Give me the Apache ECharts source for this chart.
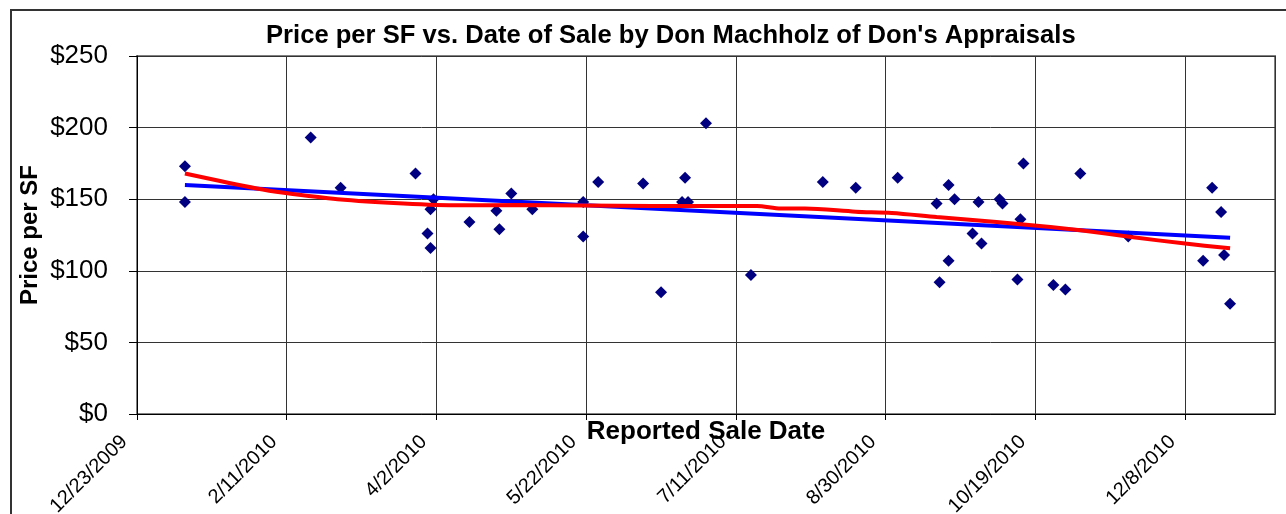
<!DOCTYPE html>
<html>
<head>
<meta charset="utf-8">
<script src="https://cdn.jsdelivr.net/npm/echarts@6/dist/echarts.min.js"></script>
<style>
html,body{margin:0;padding:0;background:#fff;}
#chart{width:1286px;height:514px;}
</style>
</head>
<body>
<div id="chart"></div>
<script>
// ---- data ----
const saleDates = [
  '2010-01-08','2010-01-08','2010-02-19','2010-03-01','2010-03-26','2010-03-31','2010-03-30','2010-03-31','2010-04-01',
  '2010-04-13','2010-04-22','2010-04-23','2010-04-27','2010-05-04','2010-05-21','2010-05-21','2010-05-26','2010-06-10',
  '2010-06-16','2010-06-24','2010-06-23','2010-06-25','2010-07-01','2010-07-16',
  '2010-08-09','2010-08-20','2010-09-03','2010-09-16','2010-09-17','2010-09-20','2010-09-20','2010-09-22','2010-09-28',
  '2010-09-30','2010-10-01','2010-10-07','2010-10-08','2010-10-13','2010-10-14','2010-10-15',
  '2010-10-25','2010-10-29','2010-11-03','2010-11-19','2010-12-14','2010-12-17','2010-12-20','2010-12-21','2010-12-23'
];
const pricePerSF = [
  173,148,193,158,168,143,126,116,150,
  134,142,129,154,143,148,124,162,161,
  85,165,148,148,203,97,
  162,158,165,147,92,160,107,150,126,
  148,119,150,147,94,136,175,
  90,87,168,124,107,158,141,111,77
];
// linear trend line (blue) endpoints
const linearDates = ['2010-01-08','2010-12-23'];
const linearValues = [160,123];
// polynomial trend line (red)
const polyDates = ['2010-01-08','2010-02-01','2010-02-10','2010-02-28','2010-03-22','2010-04-10','2010-04-29',
  '2010-06-13','2010-07-18','2010-07-26','2010-08-03','2010-08-20','2010-09-01','2010-09-16','2010-10-06',
  '2010-10-24','2010-11-03','2010-11-20','2010-12-08','2010-12-23'];
const polyValues = [168,157.5,154.5,150,147,145.7,146,145.3,145.3,143.5,143.5,141.3,140.4,137.6,134.1,130.6,128.3,123.6,119,115.7];
const axisStartDate = '2009-12-23';
const axisEndDay = 380;
const dayStep = 50;
const yTicks = [0,50,100,150,200,250];

// ---- helpers ----
const DAY = 86400000;
const base = Date.UTC(2009,11,23);
function toDay(s){ const p=s.split('-'); return Math.round((Date.UTC(+p[0],+p[1]-1,+p[2])-base)/DAY); }
function dayLabel(d){ const dt=new Date(base+d*DAY); return (dt.getUTCMonth()+1)+'/'+dt.getUTCDate()+'/'+dt.getUTCFullYear(); }
function pairs(ds,vs){ return ds.map((d,i)=>[toDay(d),vs[i]]); }

const chart = echarts.init(document.getElementById('chart'), null, {renderer:'canvas'});
const FONT = 'Liberation Sans, Arial, sans-serif';
chart.setOption({
  backgroundColor:'#fff',
  animation:false,
  title:{
    text:"Price per SF vs. Date of Sale by Don Machholz of Don's Appraisals",
    left:261, top:18,
    textStyle:{fontFamily:FONT,fontSize:25.6,fontWeight:'bold',color:'#000'}
  },
  graphic:[{type:'rect',shape:{x:11,y:10,width:1300,height:540},style:{fill:'none',stroke:'#333',lineWidth:2},silent:true}],
  grid:{left:137,right:11,top:56,bottom:100,show:true,borderColor:'#808080',borderWidth:2,backgroundColor:'transparent',
    containLabel:false,outerBoundsMode:'none'},
  xAxis:{
    type:'value', min:toDay(axisStartDate), max:axisEndDay, interval:dayStep,
    name:'Reported Sale Date', nameLocation:'middle', nameGap:5, nameMoveOverlap:false,
    nameTextStyle:{fontFamily:FONT,fontSize:26,fontWeight:'bold',color:'#000'},
    axisLine:{show:true,lineStyle:{color:'#000',width:1}},
    axisTick:{show:true,length:6,lineStyle:{color:'#000'}},
    axisLabel:{rotate:45,margin:12,padding:[0,18,0,0],fontFamily:FONT,fontSize:20,color:'#000',showMaxLabel:false,
      formatter:v=> (v%dayStep===0 ? dayLabel(v) : '')},
    splitLine:{show:true,lineStyle:{color:'#333',width:1}}
  },
  yAxis:{
    type:'value', min:yTicks[0], max:yTicks[yTicks.length-1], interval:yTicks[1]-yTicks[0],
    name:'Price per SF', nameLocation:'middle', nameGap:95, nameRotate:90, nameMoveOverlap:false,
    nameTextStyle:{fontFamily:FONT,fontSize:24,fontWeight:'bold',color:'#000'},
    axisLine:{show:true,lineStyle:{color:'#000',width:1}},
    axisTick:{show:true,length:8,lineStyle:{color:'#000'}},
    axisLabel:{margin:29,fontFamily:FONT,fontSize:26,color:'#000',formatter:v=>'$'+v},
    splitLine:{show:true,lineStyle:{color:'#333',width:1}}
  },
  series:[
    {type:'scatter',data:pairs(saleDates,pricePerSF),symbol:'diamond',symbolSize:12,
      itemStyle:{color:'#000080',opacity:1},z:2},
    {type:'line',data:pairs(linearDates,linearValues),showSymbol:false,symbol:'none',
      lineStyle:{color:'#0000ff',width:4},z:3},
    {type:'line',data:pairs(polyDates,polyValues),showSymbol:false,symbol:'none',smooth:0.3,
      lineStyle:{color:'#ff0000',width:4},z:4}
  ]
});
</script>
</body>
</html>
